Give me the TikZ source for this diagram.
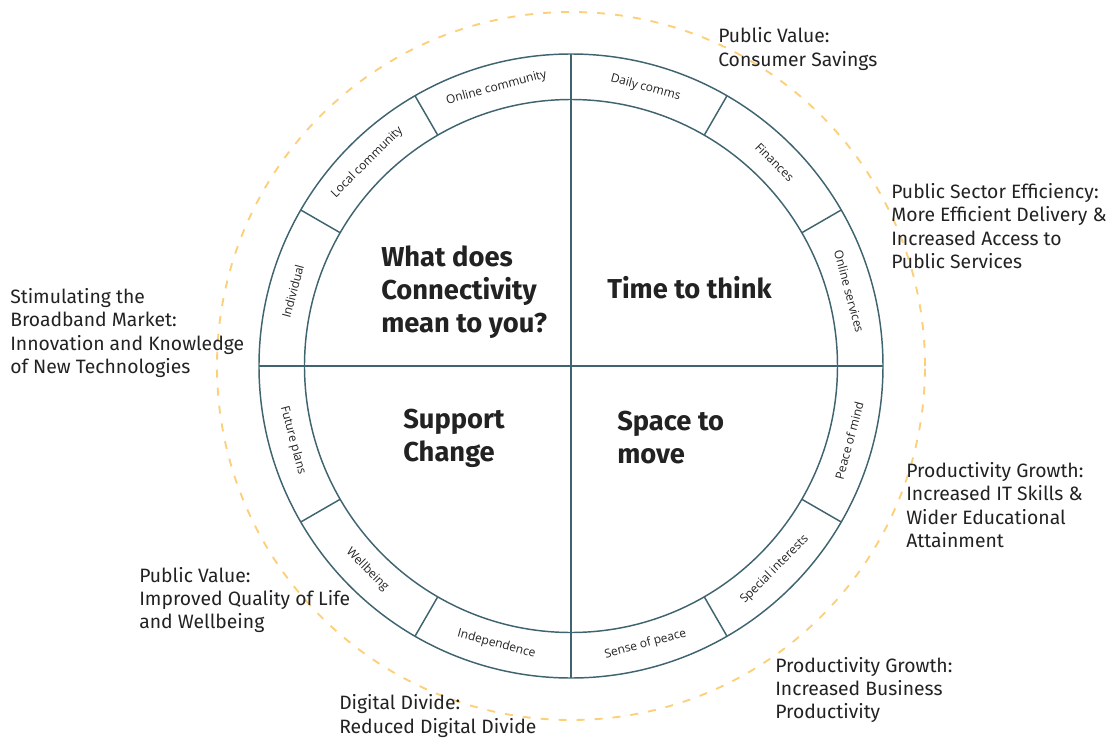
\documentclass[tikz,border=0pt]{standalone}
\usepackage{fontspec}
\setmainfont{Fira Sans}
\newfontfamily\ringfont{Open Sans}
\usepackage{tikz}
\definecolor{ringcol}{HTML}{3F6470}
\definecolor{dashcol}{HTML}{FCCF78}
\definecolor{textcol}{HTML}{222222}
\tikzstyle{ring}=[circle,draw=ringcol,line width=1.1pt,inner sep=0pt,outer sep=0pt]
\tikzstyle{divider}=[draw=ringcol,line width=1.1pt]
\tikzstyle{segment}=[font=\ringfont\fontsize{9}{10}\selectfont,text=textcol,inner sep=0pt]
\tikzstyle{theme}=[font=\bfseries\fontsize{20.5}{24.75}\selectfont,align=left,anchor=west,inner sep=0pt,text=textcol]
\tikzstyle{benefit}=[font=\fontsize{14.5}{17.5}\selectfont,align=left,anchor=west,inner sep=0pt,text=textcol]

\begin{document}
\begin{tikzpicture}[x=0.75pt,y=0.75pt]
      \useasboundingbox (-571,-374) rectangle (547,366);
      \node [circle,draw=dashcol,line width=1.4pt,dash pattern=on 6pt off 7.5pt,inner sep=0pt,minimum size=531pt] (halo) at (0,0) {};
      \node [ring,minimum size=468pt] (outer) at (0,0) {};
      \node [ring,minimum size=399.75pt] (inner) at (0,0) {};
      \draw [divider] (outer.north) -- (outer.south);
      \draw [divider] (outer.west) -- (outer.east);
      \foreach \a in {30,60,120,150,210,240,300,330}
        \draw [divider] (inner.\a) -- (outer.\a);
      \foreach \a/\t in {15/Online services,45/Finances,75/Daily comms,105/Online community,135/Local community,165/Individual}
        \node [segment,rotate=\a-90] (seg\a) at (\a:288) {\t};
      \foreach \a/\t in {195/Future plans,225/Wellbeing,255/Independence,285/Sense of peace,315/Special interests,345/Peace of mind}
        \node [segment,rotate=\a+90] (seg\a) at (\a:288) {\t};
      \node [theme] (question) at (-190,73.5) {What does\\Connectivity\\mean to you?};
      \node [theme] (think) at (36,78) {Time to think};
      \node [theme] (support) at (-168,-72) {Support\\Change};
      \node [theme] (space) at (46,-72) {Space to\\move};
      \node [benefit] (savings) at (147,317) {Public Value:\\Consumer Savings};
      \node [benefit] (efficiency) at (320,140) {Public Sector Efficiency:\\More Efficient Delivery \&\\Increased Access to\\Public Services};
      \node [benefit] (market) at (-561,33) {Stimulating the\\Broadband Market:\\Innovation and Knowledge\\of New Technologies};
      \node [benefit] (skills) at (335,-139) {Productivity Growth:\\Increased IT Skills \&\\Wider Educational\\Attainment};
      \node [benefit] (quality) at (-432,-234) {Public Value:\\Improved Quality of Life\\and Wellbeing};
      \node [benefit] (business) at (204,-324) {Productivity Growth:\\Increased Business\\Productivity};
      \node [benefit] (divide) at (-232,-350) {Digital Divide:\\Reduced Digital Divide};
    \end{tikzpicture}
\end{document}
